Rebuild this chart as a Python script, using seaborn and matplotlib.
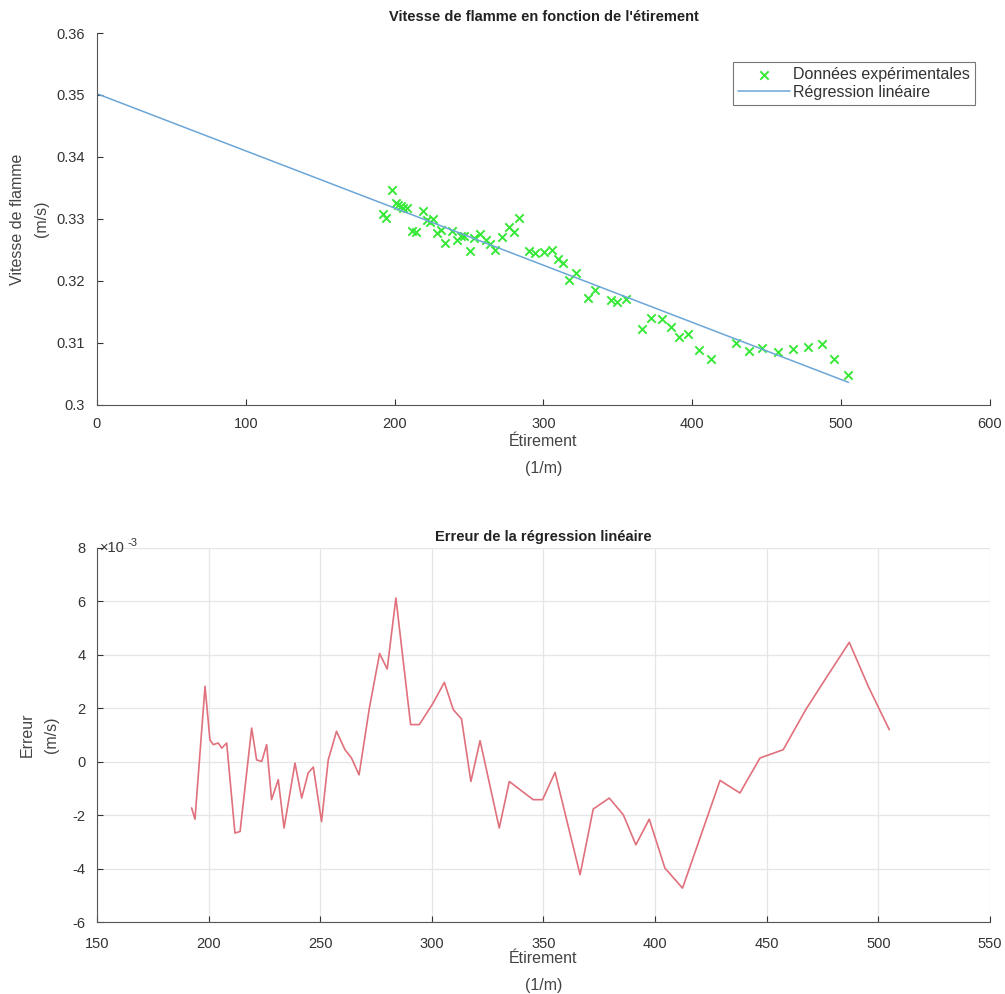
import numpy as np
import pandas as pd
import matplotlib
matplotlib.use("Agg")
import matplotlib.pyplot as plt
import matplotlib.ticker as mticker
import seaborn as sns

# étirement (1/m)
etirement = [192.4, 193.9, 198.4, 200.6, 202.1, 204.3, 205.9, 208.1, 211.8, 214.1,
             219.3, 221.5, 223.8, 226.0, 228.2, 231.2, 233.8, 238.7, 241.7, 244.6,
             246.9, 250.6, 253.6, 257.3, 261.1, 264.0, 267.4, 272.0, 276.6, 280.0,
             283.9, 290.5, 294.4, 300.6, 305.6, 309.6, 313.3, 317.5, 321.6, 330.2,
             334.7, 345.4, 349.6, 355.2, 366.4, 372.3, 379.5, 385.8, 391.4, 397.4,
             404.4, 412.3, 429.1, 438.0, 447.0, 457.4, 467.5, 477.5, 487.0, 495.5,
             504.9]

# vitesse de flamme mesurée (m/s)
vitesse = [0.33073, 0.33017, 0.33473, 0.33253, 0.33221, 0.33206, 0.33173, 0.33171, 0.32800, 0.32785,
           0.33124, 0.32985, 0.32958, 0.33000, 0.32774, 0.32821, 0.32616, 0.32814, 0.32656, 0.32723,
           0.32724, 0.32486, 0.32689, 0.32762, 0.32658, 0.32600, 0.32506, 0.32712, 0.32875, 0.32785,
           0.33015, 0.32481, 0.32445, 0.32469, 0.32499, 0.32361, 0.32291, 0.32019, 0.32134, 0.31728,
           0.31860, 0.31693, 0.31655, 0.31705, 0.31219, 0.31410, 0.31385, 0.31264, 0.31100, 0.31141,
           0.30893, 0.30746, 0.30994, 0.30865, 0.30913, 0.30848, 0.30905, 0.30942, 0.30977, 0.30734,
           0.30485]

# régression linéaire (extrémités)
reg_x = [0.0, 505.0]
reg_y = [0.3502, 0.30364]

# erreur de la régression (x 1e-3 m/s)
erreur = [-1.73, -2.15, 2.82, 0.82, 0.64, 0.70, 0.51, 0.70, -2.67, -2.61,
          1.26, 0.07, 0.01, 0.64, -1.42, -0.67, -2.48, -0.05, -1.36, -0.42,
          -0.20, -2.24, 0.07, 1.14, 0.45, 0.14, -0.49, 2.00, 4.05, 3.47,
          6.13, 1.39, 1.39, 2.20, 2.97, 1.95, 1.60, -0.74, 0.79, -2.48,
          -0.74, -1.42, -1.42, -0.40, -4.23, -1.77, -1.36, -1.99, -3.11, -2.15,
          -3.98, -4.73, -0.70, -1.17, 0.14, 0.45, 1.95, 3.25, 4.47, 2.82,
          1.20]

sns.set_style("white")
plt.rcParams.update({
    "font.family": ["Liberation Sans", "DejaVu Sans"],
    "axes.unicode_minus": False,
    "axes.edgecolor": "#555555",
    "axes.linewidth": 0.8,
    "xtick.color": "#333333",
    "ytick.color": "#333333",
    "xtick.direction": "in",
    "ytick.direction": "in",
    "xtick.major.size": 4,
    "ytick.major.size": 4,
    "xtick.bottom": True,
    "ytick.left": True,
})

fig = plt.figure(figsize=(10.05, 9.94), dpi=100)
ax1 = fig.add_axes([0.0965, 0.5926, 0.8885, 0.3742])
ax2 = fig.add_axes([0.0965, 0.0724, 0.8885, 0.3763])

df = pd.DataFrame({"x": etirement, "v": vitesse, "err": np.array(erreur) * 1e-3})

sns.scatterplot(data=df, x="x", y="v", ax=ax1, marker="x", color="#38e838",
                s=36, linewidth=1.4, label="Données expérimentales")
sns.lineplot(x=reg_x, y=reg_y, ax=ax1, color="#6aa6d8", linewidth=1.1,
             label="Régression linéaire")
ax1.set_xlim(0, 600)
ax1.set_ylim(0.30, 0.36)
ax1.set_xticks(range(0, 601, 100))
ax1.set_yticks(np.arange(0.30, 0.3601, 0.01))
ax1.yaxis.set_major_formatter(mticker.FormatStrFormatter("%g"))
ax1.set_title("Vitesse de flamme en fonction de l'étirement", fontsize=10.5,
              fontweight="bold", color="#222222", pad=9)
ax1.set_xlabel("Étirement\n(1/m)", fontsize=11.5, color="#444444", labelpad=2,
               linespacing=2.0)
ax1.set_ylabel("Vitesse de flamme\n(m/s)", fontsize=11.5, color="#444444",
               labelpad=5, linespacing=1.75)
ax1.tick_params(axis="x", labelsize=10.5, pad=9)
ax1.tick_params(axis="y", labelsize=10.5, pad=9)
leg = ax1.legend(loc="upper right", bbox_to_anchor=(0.983, 0.922), fontsize=11.5,
                 frameon=True, fancybox=False, edgecolor="#555555",
                 handlelength=3.25, handletextpad=0.2, borderpad=0.3,
                 labelspacing=0.2, borderaxespad=0)
leg.get_frame().set_linewidth(0.8)
for t in leg.get_texts():
    t.set_color("#333333")
sns.despine(ax=ax1)

sns.lineplot(data=df, x="x", y="err", ax=ax2, color="#e0707c", linewidth=1.2)
ax2.set_xlim(150, 550)
ax2.set_ylim(-6e-3, 8e-3)
ax2.set_xticks(range(150, 551, 50))
ax2.set_yticks(np.arange(-6e-3, 8.01e-3, 2e-3))
ax2.yaxis.set_major_formatter(mticker.FuncFormatter(lambda v, p: "%g" % round(v * 1e3, 6)))
ax2.text(0.003, 1.0, "×10", transform=ax2.transAxes, fontsize=10.5,
         color="#333333", ha="left", va="center")
ax2.text(0.0345, 1.013, "-3", transform=ax2.transAxes, fontsize=8,
         color="#333333", ha="left", va="center")
ax2.grid(True, color="#e6e6e6", linewidth=0.9)
ax2.set_title("Erreur de la régression linéaire", fontsize=10.5,
              fontweight="bold", color="#222222", pad=5)
ax2.set_xlabel("Étirement\n(1/m)", fontsize=11.5, color="#444444", labelpad=0,
               linespacing=2.0)
ax2.set_ylabel("Erreur\n(m/s)", fontsize=11.5, color="#444444", labelpad=10,
               linespacing=1.75)
ax2.tick_params(axis="x", labelsize=10.5, pad=11)
ax2.tick_params(axis="y", labelsize=10.5, pad=8)
sns.despine(ax=ax2)

fig.savefig("out.png", dpi=100)
